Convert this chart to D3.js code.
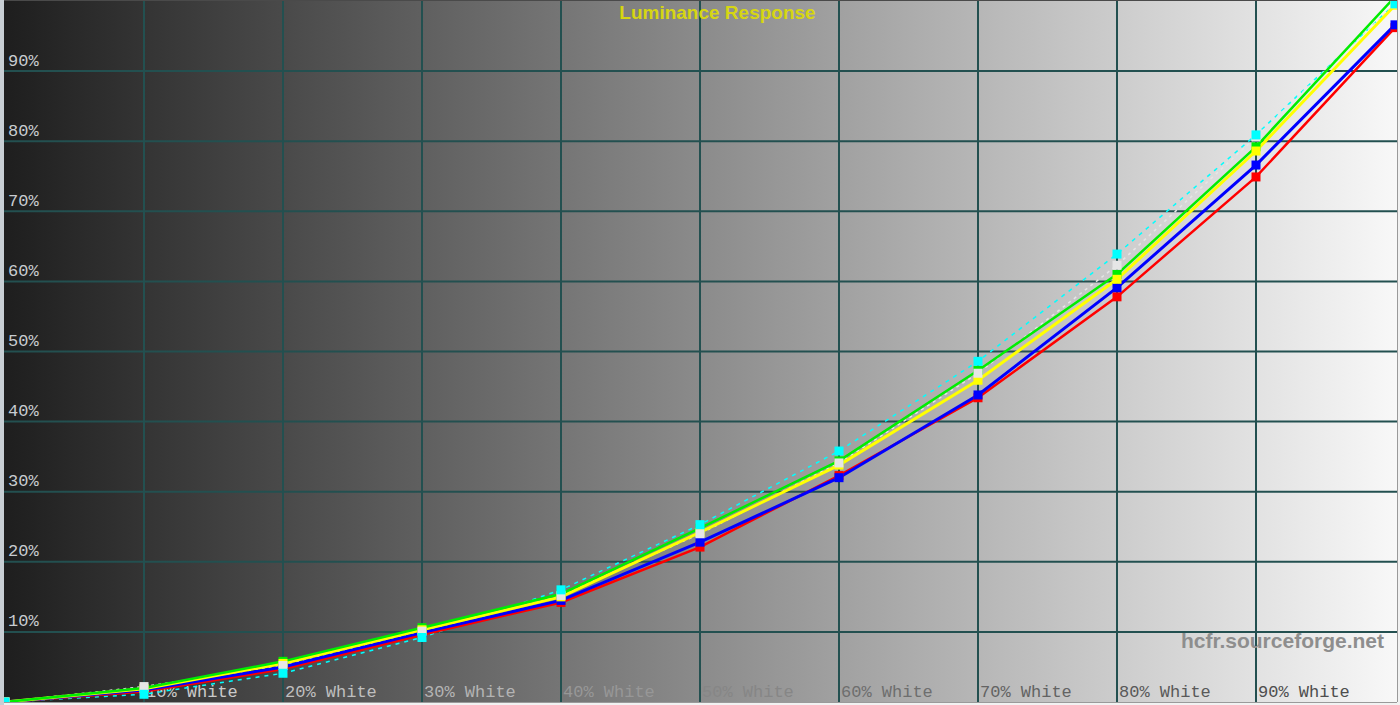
<!DOCTYPE html>
<html>
<head>
<meta charset="utf-8">
<script src="https://cdn.jsdelivr.net/npm/d3@7"></script>
<style>
  body { margin: 0; background: #f0f0f0; overflow: hidden; }
  svg { display: block; }
</style>
</head>
<body>
<svg></svg>
<script>
// DATA

let levels = [0, 10, 20, 30, 40, 50, 60, 70, 80, 90, 100];
let xTickLabels = ["10% White", "20% White", "30% White", "40% White", "50% White",
                   "60% White", "70% White", "80% White", "90% White"];
let yTickValues = [10, 20, 30, 40, 50, 60, 70, 80, 90];
let yTickLabels = ["10%", "20%", "30%", "40%", "50%", "60%", "70%", "80%", "90%"];

let redY    = [0, 1.5, 4.7, 9.6, 14.2, 22.1, 32.3, 43.4, 57.8, 74.9, 96.2];
let greenY  = [0, 2.0, 5.8, 10.6, 15.4, 24.8, 34.4, 47.3, 61.0, 79.2, 100.6];
let blueY   = [0, 1.7, 5.0, 9.9, 14.5, 22.8, 32.0, 43.8, 59.1, 76.6, 96.6];
let yellowY = [0, 1.9, 5.5, 10.3, 15.0, 24.2, 33.8, 45.9, 60.3, 78.6, 99.4];
let whiteY  = [0, 2.2, 5.2, 10.1, 15.2, 24.0, 34.1, 46.9, 62.3, 80.6, 99.6];
let cyanY   = [0, 1.1, 4.1, 9.2, 16.0, 25.3, 35.8, 48.6, 63.9, 80.9, 99.6];

// PAGE SETUP

let W = 1400, H = 705;
let plot = {left: 4, right: 1397, top: 1, bottom: 702};

let svg = d3.select("svg")
  .attr("width", W)
  .attr("height", H);

let x = d3.scaleLinear().domain([0, 100]).range([5, 1395]);
let y = d3.scaleLinear().domain([0, 100]).range([702, 1]);

// background gradient, dark on the left to almost white on the right
let defs = svg.append("defs");
let grad = defs.append("linearGradient")
  .attr("id", "bg")
  .attr("x1", "0%").attr("x2", "100%")
  .attr("y1", "0%").attr("y2", "0%");
grad.append("stop").attr("offset", "0%").attr("stop-color", "#1e1e1e");
grad.append("stop").attr("offset", "100%").attr("stop-color", "#f8f8f8");

defs.append("clipPath").attr("id", "plotClip")
  .append("rect")
  .attr("x", plot.left).attr("y", plot.top)
  .attr("width", plot.right - plot.left)
  .attr("height", plot.bottom - plot.top);

// frame around the plot
svg.append("rect").attr("x", 0).attr("y", 0).attr("width", W).attr("height", H)
  .attr("fill", "#f2f2f2");
svg.append("rect").attr("x", 0).attr("y", 0).attr("width", plot.left).attr("height", H)
  .attr("fill", "#c8ced4");

svg.append("rect")
  .attr("x", plot.left).attr("y", 0)
  .attr("width", plot.right - plot.left).attr("height", plot.bottom)
  .attr("fill", "url(#bg)");
svg.append("line")
  .attr("x1", plot.left).attr("x2", plot.right).attr("y1", 0.5).attr("y2", 0.5)
  .attr("stroke", "#4a4a4a").attr("stroke-width", 1);
svg.append("line")
  .attr("x1", plot.right + 0.5).attr("x2", plot.right + 0.5).attr("y1", 0).attr("y2", plot.bottom)
  .attr("stroke", "#9a9a9a").attr("stroke-width", 1);
svg.append("line")
  .attr("x1", plot.left).attr("x2", plot.right).attr("y1", plot.bottom + 0.5).attr("y2", plot.bottom + 0.5)
  .attr("stroke", "#9a9a9a").attr("stroke-width", 1);

// GRID

let gridColor = "#235050";

svg.append("g").selectAll("line")
  .data(levels.slice(1, 10))
  .enter()
  .append("line")
  .attr("x1", d => x(d)).attr("x2", d => x(d))
  .attr("y1", plot.top).attr("y2", plot.bottom)
  .attr("stroke", gridColor)
  .attr("stroke-width", 2);

svg.append("g").selectAll("line")
  .data(yTickValues)
  .enter()
  .append("line")
  .attr("x1", plot.left).attr("x2", plot.right)
  .attr("y1", d => y(d)).attr("y2", d => y(d))
  .attr("stroke", gridColor)
  .attr("stroke-width", 2);

// LABELS

svg.append("g").selectAll("text")
  .data(yTickValues)
  .enter()
  .append("text")
  .attr("x", 8)
  .attr("y", d => y(d) - 5.5)
  .attr("font-family", "'Liberation Mono', 'Courier New', monospace")
  .attr("font-size", 17)
  .attr("fill", "#c8ccd0")
  .text((d, i) => yTickLabels[i]);

// text colour fades from light to dark gray across the gradient
let labelColor = d3.scaleLinear()
  .domain([10, 30, 40, 50, 60, 90])
  .range(["#cacaca", "#b4b4b4", "#979797", "#868686", "#6e6e6e", "#4e4e4e"]);

svg.append("g").selectAll("text")
  .data(xTickLabels)
  .enter()
  .append("text")
  .attr("x", (d, i) => x(levels[i + 1]) + 2)
  .attr("y", 697)
  .attr("font-family", "'Liberation Mono', 'Courier New', monospace")
  .attr("font-size", 17)
  .attr("fill", (d, i) => labelColor(levels[i + 1]))
  .text(d => d);

svg.append("text")
  .attr("x", 717.5)
  .attr("y", 19)
  .attr("text-anchor", "middle")
  .attr("font-family", "'Liberation Sans', Arial, sans-serif")
  .attr("font-weight", "bold")
  .attr("font-size", 19)
  .attr("fill", "#d6d612")
  .text("Luminance Response");

svg.append("text")
  .attr("x", 1384)
  .attr("y", 648)
  .attr("text-anchor", "end")
  .attr("font-family", "'Liberation Sans', Arial, sans-serif")
  .attr("font-weight", "bold")
  .attr("font-size", 21)
  .attr("fill", "#8e8e8e")
  .text("hcfr.sourceforge.net");

// SERIES

let series = [
  {name: "cyan",   values: cyanY,   color: "#00ffff", width: 1.5, dash: "4,5"},
  {name: "red",    values: redY,    color: "#ff0000", width: 2.5, dash: null},
  {name: "white",  values: whiteY,  color: "#e6e6e6", width: 1.5, dash: "3,4"},
  {name: "blue",   values: blueY,   color: "#0000ff", width: 3,   dash: null},
  {name: "yellow", values: yellowY, color: "#ffff00", width: 3,   dash: null},
  {name: "green",  values: greenY,  color: "#00ee00", width: 2.5, dash: null}
];

let lineGen = d3.line()
  .x((d, i) => x(levels[i]))
  .y(d => y(d));

let plotG = svg.append("g").attr("clip-path", "url(#plotClip)");

plotG.selectAll(".series-line")
  .data(series)
  .enter()
  .append("path")
  .attr("class", "series-line")
  .attr("d", d => lineGen(d.values))
  .attr("fill", "none")
  .attr("stroke", d => d.color)
  .attr("stroke-width", d => d.width)
  .attr("stroke-dasharray", d => d.dash);

// markers, drawn in the order they stack in the picture
let markerOrder = ["red", "blue", "green", "yellow", "white", "cyan"];
let markerSize = 9;

markerOrder.forEach(function(name){
  let s = series.find(d => d.name == name);
  plotG.append("g")
    .attr("class", "markers-" + name)
    .selectAll("rect")
    .data(s.values)
    .enter()
    .append("rect")
    .attr("x", (d, i) => x(levels[i]) - markerSize / 2)
    .attr("y", d => y(d) - markerSize / 2)
    .attr("width", markerSize)
    .attr("height", markerSize)
    .attr("fill", s.color);
});
</script>
</body>
</html>
